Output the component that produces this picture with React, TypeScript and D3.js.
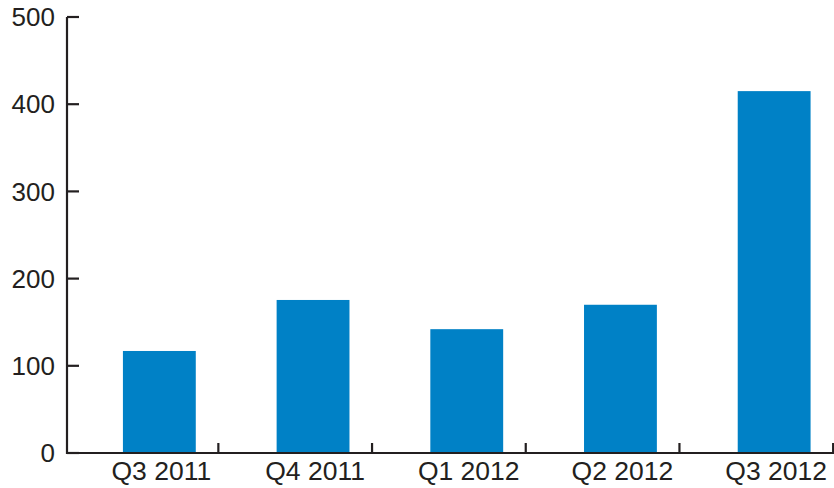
import React from "react";
import * as d3 from "d3";

const categories = ["Q3 2011", "Q4 2011", "Q1 2012", "Q2 2012", "Q3 2012"];
const values = [117, 175.5, 142, 170, 415];
const yTicks = [0, 100, 200, 300, 400, 500];

const W = 834;
const H = 488;
const axisX = 67;
const axisY = 453;
const font = "'Liberation Sans', Arial, Helvetica, sans-serif";
const ink = "#231f20";
const barColor = "#0081c6";

export default function App() {
  const y = d3.scaleLinear().domain([0, 500]).range([axisY, 17]);
  const x = d3
    .scaleBand<string>()
    .domain(categories)
    .range([82.5, 851])
    .paddingInner(0.526)
    .paddingOuter(0.263);
  const bw = x.bandwidth();
  const tickOffset = 59;

  return (
    <svg
      width={W}
      height={H}
      style={{ position: "absolute", left: 0, top: 0, background: "#fff" }}
    >
      {categories.map((c, i) => (
        <rect
          key={c}
          x={x(c)!}
          y={y(values[i])}
          width={bw}
          height={axisY - y(values[i])}
          fill={barColor}
        />
      ))}
      <line x1={axisX} x2={axisX} y1={y(500)} y2={axisY + 1} stroke={ink} strokeWidth={2.2} />
      {yTicks.map((t) => (
        <g key={t}>
          <line x1={axisX} x2={axisX + 12} y1={y(t)} y2={y(t)} stroke={ink} strokeWidth={2.2} />
          <text
            x={55}
            y={y(t)}
            dy="0.35em"
            textAnchor="end"
            fontFamily={font}
            fontSize={26}
            fill={ink}
          >
            {t}
          </text>
        </g>
      ))}
      <line x1={axisX - 1} x2={W} y1={axisY} y2={axisY} stroke={ink} strokeWidth={2.2} />
      {categories.map((c) => {
        const cx = x(c)! + bw / 2;
        return (
          <g key={c}>
            <line
              x1={cx + tickOffset}
              x2={cx + tickOffset}
              y1={axisY}
              y2={axisY - 10}
              stroke={ink}
              strokeWidth={2.2}
            />
            <text
              x={cx + 2}
              y={480}
              textAnchor="middle"
              fontFamily={font}
              fontSize={26.5}
              fill={ink}
            >
              {c}
            </text>
          </g>
        );
      })}
    </svg>
  );
}
